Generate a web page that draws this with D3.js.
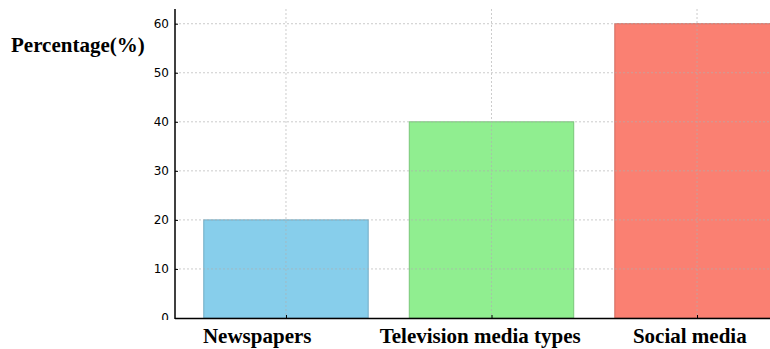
<!DOCTYPE html>
<html>
<head>
<meta charset="utf-8">
<script src="https://cdn.jsdelivr.net/npm/d3@7"></script>
<style>
    body { margin: 0; background: #fff; }
    svg { display: block; }
    .y-axis text { font-family: "DejaVu Sans", sans-serif; font-size: 12px; fill: #000; }
    .cat-label, .y-title { font-family: "Liberation Serif", "Times New Roman", serif; font-weight: bold; font-size: 21px; fill: #000; }
</style>
</head>
<body>
<div id="chart"></div>
<script>
// Data
const categories = ['Newspapers', 'Television media types', 'Social media'];
const percentages = [20, 40, 60];
const barColors = ['#87ceeb', '#90ee90', '#fa8072'];
const yTicks = [0, 10, 20, 30, 40, 50, 60];
const yTitle = 'Percentage(%)';

const width = 770, height = 349;
const plot = { left: 175, top: 9, bottom: 318, right: 808 };

const svg = d3.select('#chart').append('svg')
    .attr('width', width)
    .attr('height', height);

// Scales (category index on a continuous axis, like the source plot)
const x = d3.scaleLinear()
    .domain([-0.54, categories.length - 1 + 0.54])
    .range([plot.left, plot.right]);

const y = d3.scaleLinear()
    .domain([0, 63])
    .range([plot.bottom, plot.top]);

const barWidth = x(0.4) - x(-0.4);

// Bars
svg.append('g').attr('class', 'bars')
    .selectAll('rect')
    .data(percentages)
    .join('rect')
    .attr('x', (d, i) => x(i) - barWidth / 2)
    .attr('y', d => y(d))
    .attr('width', barWidth)
    .attr('height', d => y(0) - y(d))
    .attr('fill', (d, i) => barColors[i])
    .attr('stroke', (d, i) => d3.color(barColors[i]).darker(0.5))
    .attr('stroke-width', 1);

// Grid (drawn above bars)
const grid = svg.append('g').attr('class', 'grid')
    .attr('stroke', '#b0b0b0')
    .attr('stroke-width', 0.8)
    .attr('stroke-dasharray', '2,2')
    .attr('opacity', 0.8);

grid.selectAll('.hgrid')
    .data(yTicks.filter(t => t > 0))
    .join('line')
    .attr('class', 'hgrid')
    .attr('x1', plot.left).attr('x2', width)
    .attr('y1', d => y(d)).attr('y2', d => y(d));

grid.selectAll('.vgrid')
    .data(categories.map((c, i) => i))
    .join('line')
    .attr('class', 'vgrid')
    .attr('x1', d => x(d)).attr('x2', d => x(d))
    .attr('y1', plot.top).attr('y2', plot.bottom);

// Clip so the "0" label is cut like the reference (local coords of the axis group)
svg.append('clipPath').attr('id', 'yclip')
    .append('rect').attr('x', -plot.left).attr('y', 0).attr('width', width).attr('height', 320);

// Y axis
const yAxisG = svg.append('g')
    .attr('class', 'axis y-axis')
    .attr('clip-path', 'url(#yclip)')
    .attr('transform', `translate(${plot.left},0)`)
    .call(d3.axisLeft(y).tickValues(yTicks).tickSize(-3).tickPadding(6));
yAxisG.select('.domain').remove();
yAxisG.selectAll('.tick line').attr('stroke', '#000');

// Bottom ticks (inward)
const xAxisG = svg.append('g')
    .attr('class', 'axis x-axis')
    .attr('transform', `translate(0,${plot.bottom})`)
    .call(d3.axisBottom(x).tickValues(categories.map((c, i) => i)).tickSize(-3).tickFormat(''));
xAxisG.select('.domain').remove();
xAxisG.selectAll('.tick line').attr('stroke', '#000');

// Spines
svg.append('line')
    .attr('x1', plot.left).attr('x2', plot.left)
    .attr('y1', plot.top).attr('y2', plot.bottom + 1)
    .attr('stroke', '#000').attr('stroke-width', 1.5);
svg.append('line')
    .attr('x1', plot.left).attr('x2', width)
    .attr('y1', plot.bottom + 0.5).attr('y2', plot.bottom + 0.5)
    .attr('stroke', '#000').attr('stroke-width', 1.5);

// Category labels (slightly left of the ticks, as in the reference)
const labelShift = [-0.14, -0.055, -0.035];
svg.selectAll('.cat-label')
    .data(categories)
    .join('text')
    .attr('class', 'cat-label')
    .attr('x', (d, i) => x(i + labelShift[i]))
    .attr('y', 343)
    .attr('text-anchor', 'middle')
    .text(d => d);

// Y title
svg.append('text')
    .attr('class', 'y-title')
    .attr('x', 11)
    .attr('y', 52)
    .text(yTitle);
</script>
</body>
</html>
